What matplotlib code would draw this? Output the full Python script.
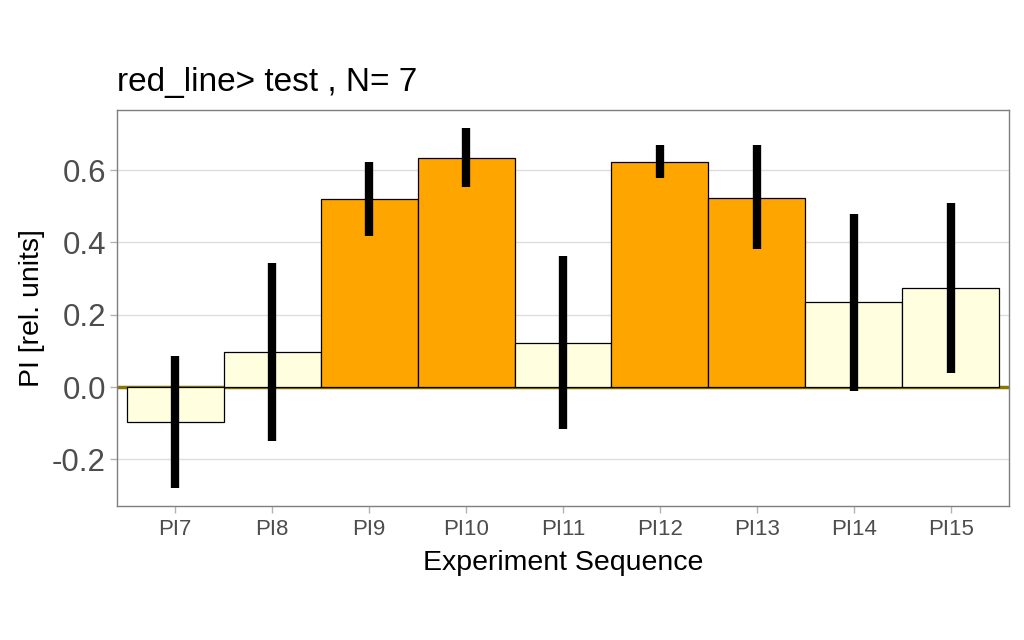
import numpy as np
import matplotlib
matplotlib.use("Agg")
import matplotlib.pyplot as plt

plt.rcParams['font.family'] = ['Liberation Sans', 'DejaVu Sans']

# data
labels = ['PI7', 'PI8', 'PI9', 'PI10', 'PI11', 'PI12', 'PI13', 'PI14', 'PI15']
values = [-0.096, 0.098, 0.521, 0.633, 0.122, 0.622, 0.524, 0.234, 0.274]
err_low = [-0.280, -0.149, 0.418, 0.553, -0.117, 0.579, 0.382, -0.012, 0.039]
err_high = [0.087, 0.342, 0.623, 0.716, 0.362, 0.668, 0.668, 0.479, 0.509]
highlight = [False, False, True, True, False, True, True, False, False]

x = np.arange(len(labels))
colors = ['#FFA500' if h else '#FFFFE0' for h in highlight]

fig = plt.figure(figsize=(10.24, 6.4), dpi=100)
ax = fig.add_axes([117 / 1024, 1 - 506 / 640, (1009 - 117) / 1024, (506 - 110) / 640])

ax.bar(x, values, width=1.0, color=colors, edgecolor='black', linewidth=0.9, zorder=2)
ax.axhline(0, color='#8B7500', linewidth=2.5, zorder=1.5)
ax.vlines(x, err_low, err_high, color='black', linewidth=6, zorder=3)

ax.set_xlim(-0.6, 8.6)
ax.set_ylim(-0.329, 0.766)
ax.set_yticks([-0.2, 0.0, 0.2, 0.4, 0.6])
ax.set_yticklabels(['-0.2', '0.0', '0.2', '0.4', '0.6'], fontsize=22.5, color='#4D4D4D')
ax.set_xticks(x)
ax.set_xticklabels(labels, fontsize=16, color='#4D4D4D')
ax.grid(axis='y', color='#DEDEDE', linewidth=1.0, zorder=0)
ax.set_axisbelow(True)
for s in ax.spines.values():
    s.set_color('#7F7F7F')
    s.set_linewidth(1.0)
ax.tick_params(axis='both', color='#B3B3B3', length=5, width=1, pad=3)
ax.tick_params(axis='x', pad=4.5)

ax.set_xlabel('Experiment Sequence', fontsize=20.5, labelpad=7)
ax.set_ylabel('PI [rel. units]', fontsize=20.5, labelpad=5)
ax.set_title('red_line> test , N= 7', fontsize=24, loc='left', pad=14)

fig.savefig('out.png', dpi=100)
